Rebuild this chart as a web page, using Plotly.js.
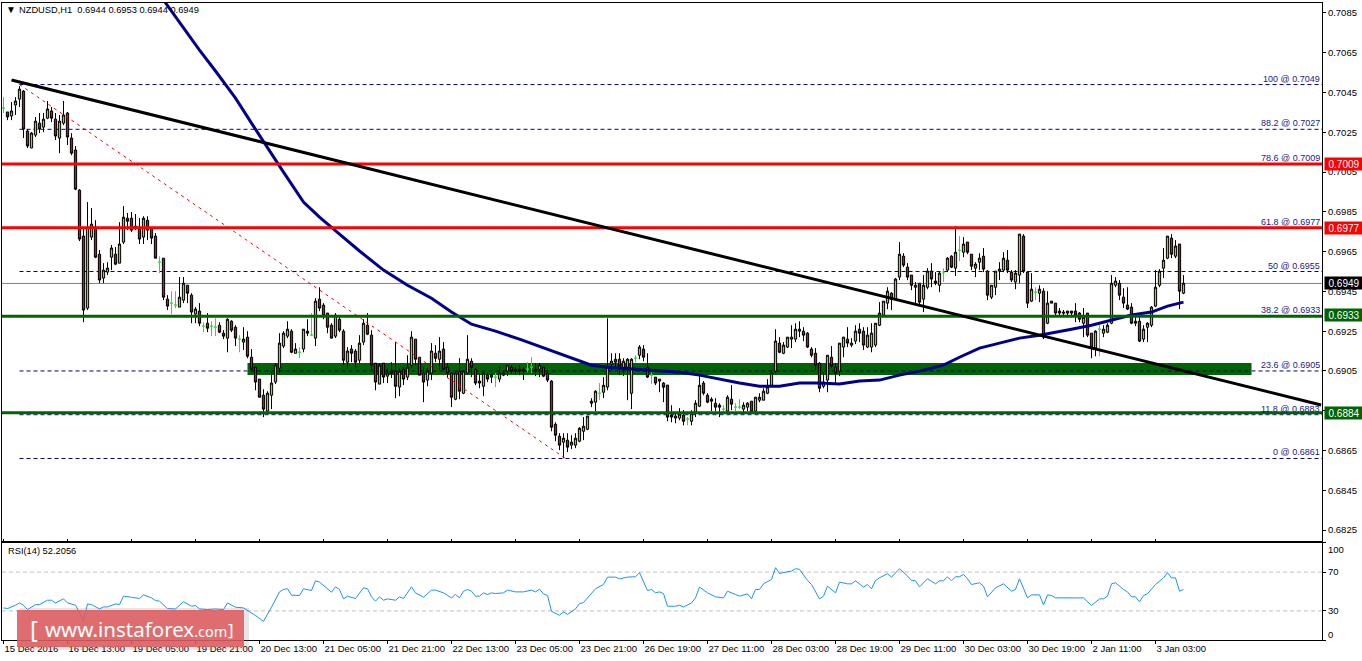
<!DOCTYPE html>
<html><head><meta charset="utf-8">
<script src="https://cdn.plot.ly/plotly-3.0.1.min.js"></script>
<style>html,body{margin:0;padding:0;background:#fff}#c{width:1362px;height:661px}</style>
</head><body><div id="c"></div>
<script>
// Prices in points (1/100000)
const open=[70372,70352,70332,70387,70417,70457,70256,70171,70236,70296,70276,70321,70357,70316,70221,70296,70347,70221,70161,69959,69728,69366,69723,69773,69637,69517,69547,69622,69637,69592,69698,69818,69818,69778,69763,69723,69808,69768,69728,69597,69617,69411,69391,69381,69371,69406,69481,69431,69336,69351,69275,69290,69275,69270,69280,69240,69215,69300,69270,69210,69195,69220,69119,69069,69009,68928,68848,68928,68994,69064,69175,69225,69250,69139,69144,69160,69250,69230,69215,69411,69381,69341,69280,69225,69310,69250,69094,69160,69150,69104,69195,69280,69230,69089,68984,69089,69024,69049,69049,68969,69059,69019,69079,69210,69119,69039,69004,69039,69139,69109,69160,69069,69039,68908,69049,68938,69039,69099,69059,68999,68973,69029,69019,69019,69009,69029,69049,69069,69059,69059,69059,69059,69069,69059,69059,69069,69039,68999,68782,68722,68692,68702,68677,68677,68697,68747,68757,68898,68893,68938,68943,68969,69084,69109,69109,69059,69069,68938,69114,69129,69160,69069,69029,69019,68999,68989,68979,68828,68813,68813,68828,68808,68797,68838,68873,68989,68928,68908,68888,68878,68858,68848,68908,68868,68868,68858,68868,68898,68848,68903,68903,68938,68978,69049,69190,69139,69170,69210,69210,69250,69250,69240,69160,69139,69089,68973,69004,69119,69069,69049,69170,69210,69180,69200,69260,69250,69170,69170,69180,69280,69331,69391,69441,69411,69522,69627,69572,69532,69471,69491,69411,69471,69552,69502,69481,69547,69557,69627,69567,69657,69647,69698,69637,69567,69597,69627,69552,69421,69471,69552,69557,69607,69547,69497,69532,69728,69547,69401,69446,69441,69451,69290,69391,69391,69351,69346,69351,69351,69351,69341,69290,69341,69240,69165,69260,69240,69245,69290,69481,69491,69421,69381,69371,69300,69300,69210,69270,69280,69376,69481,69567,69617,69718,69627,69688,69441];
const high=[70427,70352,70402,70427,70482,70462,70266,70251,70327,70347,70347,70407,70377,70347,70337,70407,70352,70246,70181,69964,69773,69899,69869,69808,69658,69592,69597,69683,69673,69798,69879,69844,69849,69839,69818,69828,69828,69768,69743,69627,69617,69431,69451,69451,69522,69522,69481,69441,69371,69391,69295,69341,69300,69315,69295,69255,69315,69305,69280,69230,69270,69250,69160,69069,69009,68958,68948,69044,69089,69240,69250,69300,69260,69190,69170,69260,69310,69341,69416,69471,69391,69341,69290,69341,69331,69260,69170,69180,69160,69230,69310,69341,69255,69089,69089,69089,69064,69094,69195,69064,69069,69129,69250,69210,69119,69069,69064,69190,69180,69220,69195,69089,69044,69044,69114,69054,69230,69114,69064,69039,69044,69039,69039,69039,69069,69054,69079,69079,69069,69079,69069,69094,69119,69089,69089,69069,69044,69004,68792,68737,68737,68737,68727,68737,68767,68818,68823,68913,68953,68989,69019,69315,69139,69139,69139,69114,69114,69114,69129,69180,69180,69139,69044,69019,69009,68994,68979,68878,68843,68863,68853,68818,68853,68903,69029,68999,68938,68918,68913,68888,68878,68928,68979,68888,68908,68893,68893,68898,68918,68938,68963,69009,69054,69260,69220,69195,69220,69280,69290,69300,69270,69245,69170,69165,69094,69044,69129,69175,69089,69190,69220,69270,69215,69280,69290,69270,69270,69290,69290,69396,69401,69471,69446,69517,69698,69642,69592,69532,69497,69491,69532,69567,69592,69547,69547,69567,69622,69632,69778,69728,69723,69698,69637,69597,69642,69668,69557,69481,69552,69597,69647,69658,69557,69557,69738,69738,69552,69542,69471,69481,69466,69451,69401,69391,69366,69356,69351,69351,69391,69346,69366,69341,69240,69255,69280,69280,69290,69532,69522,69507,69466,69471,69391,69320,69320,69280,69295,69376,69557,69562,69668,69728,69738,69708,69688,69532];
const low=[70347,70311,70311,70337,70377,70221,70171,70171,70226,70246,70251,70316,70301,70211,70145,70286,70186,70135,69959,69703,69295,69356,69708,69617,69491,69491,69532,69557,69582,69592,69688,69758,69748,69758,69688,69688,69708,69688,69617,69542,69406,69356,69336,69366,69371,69391,69391,69290,69290,69275,69245,69245,69225,69225,69240,69210,69144,69245,69175,69144,69155,69114,69054,68953,68918,68818,68843,68858,68984,69039,69165,69215,69139,69139,69114,69144,69225,69225,69175,69351,69310,69240,69215,69215,69245,69079,69064,69094,69064,69089,69180,69230,69054,68953,68984,68989,68989,69014,68913,68923,68979,69004,69064,69079,69029,68893,68973,69004,69094,69054,69054,69014,68868,68903,68908,68933,69034,69019,68979,68963,68923,68994,68989,68969,68994,69024,69024,69034,69034,69029,69004,69044,69039,69024,69019,69019,68994,68747,68697,68652,68611,68642,68657,68662,68692,68702,68752,68868,68848,68903,68913,68953,69054,69069,69029,69024,68903,68858,69094,69109,69099,69014,68984,68979,68943,68893,68797,68792,68787,68802,68777,68777,68777,68818,68868,68928,68888,68848,68848,68818,68843,68843,68853,68848,68858,68843,68848,68838,68843,68893,68903,68933,68969,69039,69139,69134,69165,69165,69195,69220,69200,69165,69119,69054,68943,68963,68943,69064,68989,69024,69119,69170,69170,69185,69195,69155,69165,69144,69170,69275,69326,69361,69356,69406,69507,69572,69507,69456,69391,69386,69346,69461,69471,69481,69446,69497,69547,69567,69527,69602,69622,69637,69557,69522,69557,69547,69406,69411,69431,69507,69547,69542,69497,69461,69491,69542,69366,69396,69406,69396,69210,69285,69391,69331,69331,69320,69320,69320,69295,69295,69220,69220,69114,69124,69124,69220,69240,69285,69471,69406,69366,69356,69285,69275,69195,69195,69195,69270,69371,69471,69517,69612,69617,69617,69361,69436];
const close=[70372,70327,70357,70407,70467,70266,70181,70246,70306,70266,70316,70367,70321,70231,70306,70337,70226,70145,69964,69713,69356,69773,69788,69622,69507,69557,69567,69668,69587,69688,69823,69803,69758,69773,69713,69818,69758,69718,69617,69597,69421,69376,69391,69381,69421,69491,69441,69346,69361,69290,69275,69265,69275,69270,69245,69225,69310,69255,69215,69210,69210,69124,69059,68994,68918,68858,68938,68989,69079,69190,69240,69260,69144,69160,69144,69260,69240,69230,69401,69366,69326,69270,69215,69331,69255,69104,69150,69139,69094,69190,69290,69235,69079,68994,69079,69019,69039,69039,68973,69049,69009,69069,69220,69109,69029,68994,69049,69150,69114,69150,69059,69039,68918,69039,68948,69049,69109,69069,68989,68989,69039,69009,69029,69019,69039,69039,69079,69049,69049,69049,69049,69059,69069,69049,69079,69024,69004,68767,68727,68677,68712,68667,68692,68712,68762,68772,68823,68888,68948,68938,68978,69069,69099,69094,69074,69099,69109,69109,69114,69170,69119,69019,69029,68989,69009,68968,68818,68818,68823,68833,68797,68808,68838,68888,68978,68938,68893,68898,68868,68868,68858,68918,68883,68868,68868,68878,68888,68843,68918,68918,68948,68969,69039,69200,69144,69180,69220,69220,69260,69260,69230,69170,69129,69079,68963,68994,69129,69074,69039,69190,69220,69190,69190,69250,69240,69180,69230,69240,69290,69341,69401,69451,69411,69512,69637,69582,69522,69481,69481,69396,69481,69552,69512,69491,69542,69547,69617,69572,69647,69657,69688,69647,69577,69587,69617,69562,69431,69481,69552,69562,69617,69557,69507,69542,69738,69552,69391,69461,69446,69461,69220,69391,69401,69341,69341,69341,69341,69341,69331,69310,69320,69230,69165,69250,69260,69260,69280,69491,69502,69431,69391,69361,69290,69290,69200,69260,69290,69371,69471,69552,69607,69728,69637,69678,69451,69491];
const tickIdx=[0,16,32,48,64,80,96,112,128,144,160,176,192,208,224,240,256,272,288];
const tickLabels=["15 Dec 2016","16 Dec 13:00","19 Dec 05:00","19 Dec 21:00","20 Dec 13:00","21 Dec 05:00","21 Dec 21:00","22 Dec 13:00","23 Dec 05:00","23 Dec 21:00","26 Dec 19:00","27 Dec 11:00","28 Dec 03:00","28 Dec 19:00","29 Dec 11:00","30 Dec 03:00","30 Dec 19:00","2 Jan 11:00","3 Jan 03:00"];
const priceTicks=[0.7085,0.7065,0.7045,0.7025,0.7005,0.6985,0.6965,0.6945,0.6925,0.6905,0.6885,0.6865,0.6845,0.6825];
const maIdx=[40,45,49,53,58,62,66,70,75,79,84,89,95,101,107,112,117,123,129,136,142,147,151,159,169,174,179,184,189,194,199,204,209,214,219,224,229,235,239,244,249,254,259,262,267,272,277,282,287,291,295];
const maPts=[70915,70774,70663,70558,70422,70296,70176,70050,69899,69823,69738,69653,69557,69481,69416,69346,69285,69250,69210,69160,69114,69079,69069,69059,69044,69029,69009,68989,68973,68973,68989,68989,68984,68999,69004,69029,69049,69079,69119,69165,69190,69215,69230,69240,69260,69280,69305,69331,69346,69376,69396];
const rsiIdx=[0,1,3,4,5,6,8,9,11,12,13,15,16,18,19,20,21,22,24,25,26,28,29,30,32,34,35,37,38,39,41,43,45,47,48,49,51,53,55,56,58,60,63,65,67,69,70,71,72,74,75,77,78,79,82,83,84,85,86,88,90,91,92,93,94,95,96,98,99,100,102,103,105,107,108,109,110,112,113,114,115,116,117,118,119,120,121,122,123,125,126,128,130,132,133,134,135,136,137,139,140,141,143,144,145,148,149,150,151,153,154,156,158,159,161,162,163,164,165,166,168,169,170,172,173,174,176,178,180,181,183,184,186,187,188,189,190,192,193,194,196,197,198,199,201,202,204,205,206,208,209,211,212,213,215,216,217,218,219,221,222,224,226,227,228,229,231,233,234,235,236,237,238,239,240,241,242,244,245,246,248,250,252,253,254,256,257,259,260,261,262,263,268,270,272,274,275,276,277,278,280,281,282,283,284,285,286,288,290,291,292,293,294,295];
const rsiVal=[33.1,32.4,35.8,38.2,35.8,31.4,36.5,36.5,41,41,38.2,42.4,38.2,35.8,27.9,20,37.2,36.5,32,34.1,34.1,37.2,36.5,45.2,44.1,42.7,46.5,43.4,40.7,40,32.4,32,39.6,34.8,35.5,32,31.4,32,31.4,38.2,33.8,33.1,25.2,19.3,33.8,49.6,52.1,52.8,46.2,45.9,52.8,51,61,59.7,49.3,54.8,52.1,42.4,45.2,42.7,53.8,52.8,44.5,40,44.5,41,42.4,41,44.5,42.7,54.8,48.6,44.1,51.4,51.4,50.3,48.6,43.4,46.9,43.4,50.3,52.1,50.3,45.2,45.2,48.6,46.9,48.6,47.9,48.6,51.4,49.6,49.6,51.4,49.6,52.4,47.6,45.9,29.6,25.5,29,26.5,32,37.6,38.6,52.8,54.8,57.2,64.8,64.8,63.1,64.8,65.2,69.3,51,52.1,48.6,49.6,47.9,34.8,34.8,35.8,34.1,38.2,43.4,54.5,48.6,44.5,43.4,50.3,46.9,45.2,47.6,42.4,52.1,52.1,57.9,62.4,74.5,68.6,70.3,71,73.5,72.8,61.4,57.2,42.4,45.2,55.5,48.6,59.7,57.9,57.9,61,54.5,57.2,52.8,61.4,64.1,68.3,64.8,73.5,65.9,61.4,61,54.8,63.1,57.9,61,61,65.2,61,65.2,65.2,67.6,63.1,57.2,59,55.5,44.5,53.8,57.9,50.3,52.1,63.1,43.4,46.5,46.5,36.2,46.5,45.9,43.4,43.4,43.4,35.5,42.4,42.4,45.2,57.9,59,52.1,49.6,44.5,44.5,39.3,45.9,47.6,57.2,64.1,69.3,64.1,64.1,50.3,52.2];
const fibLevels=[0.7049,0.70265,0.7009,0.6977,0.6955,0.69325,0.6905,0.6883,0.6861];
const fibLabels=["100 @ 0.7049","88.2 @ 0.7027","78.6 @ 0.7009","61.8 @ 0.6977","50 @ 0.6955","38.2 @ 0.6933","23.6 @ 0.6905","11.8 @ 0.6883","0 @ 0.6861"];
const redLevels=[0.7009,0.6977];
const greenLevels=[0.69325,0.6884];
const trendIdx=[2,329.4];
const trendPrice=[0.70513,0.68879];
const fibDiagIdx=[4,140.5];
const fibDiagPrice=[0.7049,0.6861];
const bandIdx=[61,312];
const bandPrice=[0.6903,0.6909];
const lastPrice=0.6949;
const rsiLevels=[70,30];
const xEdges=[-0.375,329.625];

const p=v=>v/100000;
const idx=open.map((_,i)=>i);
const isDoji=i=>open[i]===close[i];
const body=idx.filter(i=>!isDoji(i)), doji=idx.filter(isDoji);
const pick=(a,s)=>s.map(i=>p(a[i]));
const NAVY='#000080',GREEN='#006400',RED='#ff0000',INK='#000';
const tr=[];
tr.push({type:'candlestick',x:body,open:pick(open,body),high:pick(high,body),low:pick(low,body),close:pick(close,body),whiskerwidth:0,
 increasing:{line:{color:'#000',width:1},fillcolor:'#9acd32'},decreasing:{line:{color:'#000',width:1},fillcolor:'#c81414'},hoverinfo:'skip',showlegend:false,xaxis:'x',yaxis:'y'});
tr.push({type:'candlestick',x:doji,open:pick(open,doji),high:pick(high,doji),low:pick(low,doji),close:pick(close,doji),whiskerwidth:0,
 increasing:{line:{color:'#22e622',width:1},fillcolor:'#22e622'},decreasing:{line:{color:'#22e622',width:1},fillcolor:'#22e622'},hoverinfo:'skip',showlegend:false,xaxis:'x',yaxis:'y'});
const line=(x,y,color,width,dash,ya)=>({type:'scatter',mode:'lines',x,y,line:{color,width,dash:dash||'solid'},hoverinfo:'skip',showlegend:false,xaxis:'x',yaxis:ya||'y'});
tr.push(line(fibDiagIdx,fibDiagPrice,RED,1,'3px,4px'));
tr.push(line(maIdx,maPts.map(p),'#00008b',3));
redLevels.forEach(v=>tr.push(line(xEdges,[v,v],RED,3)));
greenLevels.forEach(v=>tr.push(line(xEdges,[v,v],GREEN,3)));
tr.push(line(trendIdx,trendPrice,'#000',3));
rsiLevels.forEach(v=>tr.push(line(xEdges,[v,v],'#c0c0c0',1,'4px,3px','y2')));
tr.push(line(rsiIdx,rsiVal,'#1e90ff',1,null,'y2'));

const shapes=[];
shapes.push({type:'rect',layer:'below',xref:'x',yref:'y',x0:bandIdx[0],x1:bandIdx[1],y0:bandPrice[0],y1:bandPrice[1],fillcolor:GREEN,line:{width:0}});
shapes.push({type:'line',layer:'below',xref:'paper',yref:'y',x0:0,x1:1,y0:lastPrice,y1:lastPrice,line:{color:'#808080',width:1}});
fibLevels.forEach(v=>shapes.push({type:'line',layer:'below',xref:'x',yref:'y',x0:4,x1:xEdges[1],y0:v,y1:v,line:{color:NAVY,width:1,dash:'4px,3px'}}));
// watermark
shapes.push({type:'rect',layer:'above',xref:'paper',yref:'paper',xsizemode:'pixel',ysizemode:'pixel',xanchor:0,yanchor:0,x0:18,x1:247,y0:-10,y1:32,fillcolor:'rgba(120,120,120,0.18)',line:{width:0}});
shapes.push({type:'rect',layer:'above',xref:'paper',yref:'paper',xsizemode:'pixel',ysizemode:'pixel',xanchor:0,yanchor:0,x0:15,x1:242,y0:-7,y1:30,fillcolor:'rgba(222,92,96,0.88)',line:{width:0}});

const F='Liberation Sans, Arial, sans-serif';
const ann=[];
const tag=(v,txt,bg)=>ann.push({xref:'paper',yref:'y',x:1,y:v,xanchor:'left',yanchor:'middle',xshift:2,text:txt,showarrow:false,bgcolor:bg,width:38,height:12,borderpad:0,align:'center',font:{family:F,size:10,color:'#fff'}});
fibLevels.forEach((v,i)=>ann.push({xref:'paper',yref:'y',x:1,y:v,xanchor:'right',yanchor:'middle',xshift:-1,yshift:6,text:fibLabels[i],showarrow:false,borderpad:0,font:{family:F,size:9,color:'#1a1a8c'}}));
tag(0.7009,'0.7009',RED);tag(0.6977,'0.6977',RED);tag(lastPrice,'0.6949','#000');tag(0.6933,'0.6933',GREEN);tag(0.6884,'0.6884',GREEN);
const txt=(px,py,t,size,color,family)=>ann.push({xref:'paper',yref:'paper',x:(px-2)/1320,y:(640-py)/637,xanchor:'left',yanchor:'middle',text:t,showarrow:false,borderpad:0,font:{family:family||F,size,color}});
txt(5,10,'▼',10,INK);
txt(18,10,'NZDUSD,H1&nbsp;&nbsp;0.6944 0.6953 0.6944 0.6949',9.3,INK);
txt(7,551,'RSI(14) 52.2056',9.3,INK);
txt(1327,549,'100',9.5,INK);
txt(1327,634,'0',9.5,INK);
const wF='Noto Sans, Open Sans, sans-serif';
txt(29,628,'[',24,'#fff',wF);
txt(44,629,"www.instaforex<span style='font-size:14.5px'>.com</span>",20.5,'#fff',wF);
txt(227,629,']',17,'#fff',wF);

const layout={width:1362,height:661,autosize:false,paper_bgcolor:'#fff',plot_bgcolor:'#fff',showlegend:false,dragmode:false,
 margin:{l:2,r:40,t:3,b:21,pad:0},boxgap:0.2,shapes,annotations:ann,
 xaxis:{anchor:'y2',range:xEdges,rangeslider:{visible:false},tickmode:'array',tickvals:tickIdx,ticktext:tickLabels,tickangle:0,ticks:'outside',ticklen:3,tickcolor:'#000',tickwidth:1,ticklabelposition:'outside right',showgrid:false,zeroline:false,showline:true,mirror:'all',linecolor:'#000',linewidth:1,tickfont:{family:F,size:9.5,color:INK},automargin:false,fixedrange:true},
 yaxis:{domain:[0.1554,1],anchor:'x',side:'right',range:[0.68195,0.709],tickmode:'array',tickvals:priceTicks,tickformat:'.4f',ticks:'outside',ticklen:3,tickcolor:'#000',showgrid:false,zeroline:false,showline:true,mirror:true,linecolor:'#000',linewidth:1,tickfont:{family:F,size:9.5,color:INK},automargin:false,fixedrange:true},
 yaxis2:{domain:[0,0.1523],anchor:'x',side:'right',range:[0,100],tickmode:'array',tickvals:[0,30,70,100],ticktext:['','30','70',''],ticks:'outside',ticklen:3,tickcolor:'#000',showgrid:false,zeroline:false,showline:true,mirror:true,linecolor:'#000',linewidth:1,tickfont:{family:F,size:9.5,color:INK},automargin:false,fixedrange:true}
};
Plotly.newPlot('c',tr,layout,{displayModeBar:false,staticPlot:true});
</script></body></html>
